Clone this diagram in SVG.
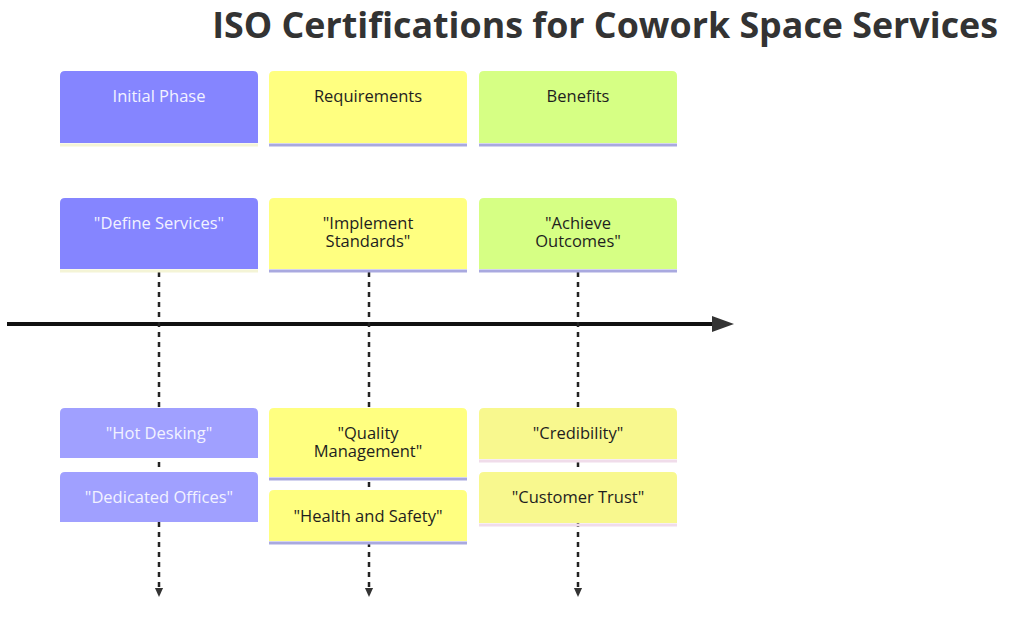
<svg xmlns="http://www.w3.org/2000/svg" width="1024" height="631" viewBox="0 0 1024 631">
<defs>
<marker id="bigArrow" markerWidth="22" markerHeight="16" refX="0" refY="8" orient="auto" markerUnits="userSpaceOnUse" viewBox="0 0 22 16">
<path d="M0,0 L22,8 L0,16 Z" fill="#333"/>
</marker>
<marker id="smallArrow" markerWidth="9" markerHeight="10" refX="0" refY="4.5" orient="auto" markerUnits="userSpaceOnUse" viewBox="0 0 10 9">
<path d="M0,0 L10,4.5 L0,9 Z" fill="#333"/>
</marker>
</defs>
<style>
text{font-family:"Open Sans","Noto Sans","Liberation Sans",sans-serif;font-size:16.5px;text-anchor:middle;fill:#1e1e1e}
.title{font-size:35.8px;font-weight:bold;text-anchor:end;fill:#333}
.c0{fill:#8585ff}
.c0t{fill:#a0a0ff}
.c1{fill:#ffff80}
.c2{fill:#d6ff84}
.c2t{fill:#f8f88e}
.light{fill:#f2f2ff}
.ln{stroke:#a9a9df;stroke-width:3}
.ln0{stroke:#f4f4d6;stroke-width:3}
.ln2{stroke:#f0dcea;stroke-width:3}
.dash{stroke:#222;stroke-width:2.5;stroke-dasharray:5,5;fill:none}
</style>
<rect width="1024" height="631" fill="#fff"/>
<text class="title" x="998" y="38">ISO Certifications for Cowork Space Services</text>

<g id="connectors">
<line x1="7" y1="324" x2="712" y2="324" stroke="#111" stroke-width="4" marker-end="url(#bigArrow)"/>
<line class="dash" x1="159" y1="272" x2="159" y2="588" marker-end="url(#smallArrow)"/>
<line class="dash" x1="369" y1="272" x2="369" y2="588" marker-end="url(#smallArrow)"/>
<line class="dash" x1="578" y1="272" x2="578" y2="588" marker-end="url(#smallArrow)"/>
</g>

<g id="period-initial">
<path class="c0" d="M60,143 V76 Q60,71 65,71 H253 Q258,71 258,76 V143 Z"/>
<line class="ln0" x1="60" y1="145" x2="258" y2="145"/>
<text class="light" x="159" y="102">Initial Phase</text>
</g>
<g id="period-requirements">
<path class="c1" d="M269,143 V76 Q269,71 274,71 H462 Q467,71 467,76 V143 Z"/>
<line class="ln" x1="269" y1="145" x2="467" y2="145"/>
<text x="368" y="102">Requirements</text>
</g>
<g id="period-benefits">
<path class="c2" d="M479,143 V76 Q479,71 484,71 H672 Q677,71 677,76 V143 Z"/>
<line class="ln" x1="479" y1="145" x2="677" y2="145"/>
<text x="578" y="102">Benefits</text>
</g>

<g id="event-define">
<path class="c0" d="M60,269 V203 Q60,198 65,198 H253 Q258,198 258,203 V269 Z"/>
<line class="ln0" x1="60" y1="271" x2="258" y2="271"/>
<text class="light" x="159" y="229">"Define Services"</text>
</g>
<g id="event-implement">
<path class="c1" d="M269,269 V203 Q269,198 274,198 H462 Q467,198 467,203 V269 Z"/>
<line class="ln" x1="269" y1="271" x2="467" y2="271"/>
<text x="368" y="229"><tspan x="368">"Implement</tspan><tspan x="368" dy="18">Standards"</tspan></text>
</g>
<g id="event-achieve">
<path class="c2" d="M479,269 V203 Q479,198 484,198 H672 Q677,198 677,203 V269 Z"/>
<line class="ln" x1="479" y1="271" x2="677" y2="271"/>
<text x="578" y="229"><tspan x="578">"Achieve</tspan><tspan x="578" dy="18">Outcomes"</tspan></text>
</g>

<g id="task-hot-desking">
<path class="c0t" d="M60,458 V413 Q60,408 65,408 H253 Q258,408 258,413 V458 Z"/>
<text class="light" x="159" y="439">"Hot Desking"</text>
</g>
<g id="task-dedicated-offices">
<path class="c0t" d="M60,522 V477 Q60,472 65,472 H253 Q258,472 258,477 V522 Z"/>
<text class="light" x="159" y="503">"Dedicated Offices"</text>
</g>
<g id="task-quality">
<path class="c1" d="M269,477 V413 Q269,408 274,408 H462 Q467,408 467,413 V477 Z"/>
<line class="ln" x1="269" y1="479" x2="467" y2="479"/>
<text x="368" y="439"><tspan x="368">"Quality</tspan><tspan x="368" dy="18">Management"</tspan></text>
</g>
<g id="task-health">
<path class="c1" d="M269,541 V495 Q269,490 274,490 H462 Q467,490 467,495 V541 Z"/>
<line class="ln" x1="269" y1="543" x2="467" y2="543"/>
<text x="368" y="522">"Health and Safety"</text>
</g>
<g id="task-credibility">
<path class="c2t" d="M479,459 V413 Q479,408 484,408 H672 Q677,408 677,413 V459 Z"/>
<line class="ln2" x1="479" y1="461" x2="677" y2="461"/>
<text x="578" y="439">"Credibility"</text>
</g>
<g id="task-customer-trust">
<path class="c2t" d="M479,523 V477 Q479,472 484,472 H672 Q677,472 677,477 V523 Z"/>
<line class="ln2" x1="479" y1="525" x2="677" y2="525"/>
<text x="578" y="503">"Customer Trust"</text>
</g>
</svg>
